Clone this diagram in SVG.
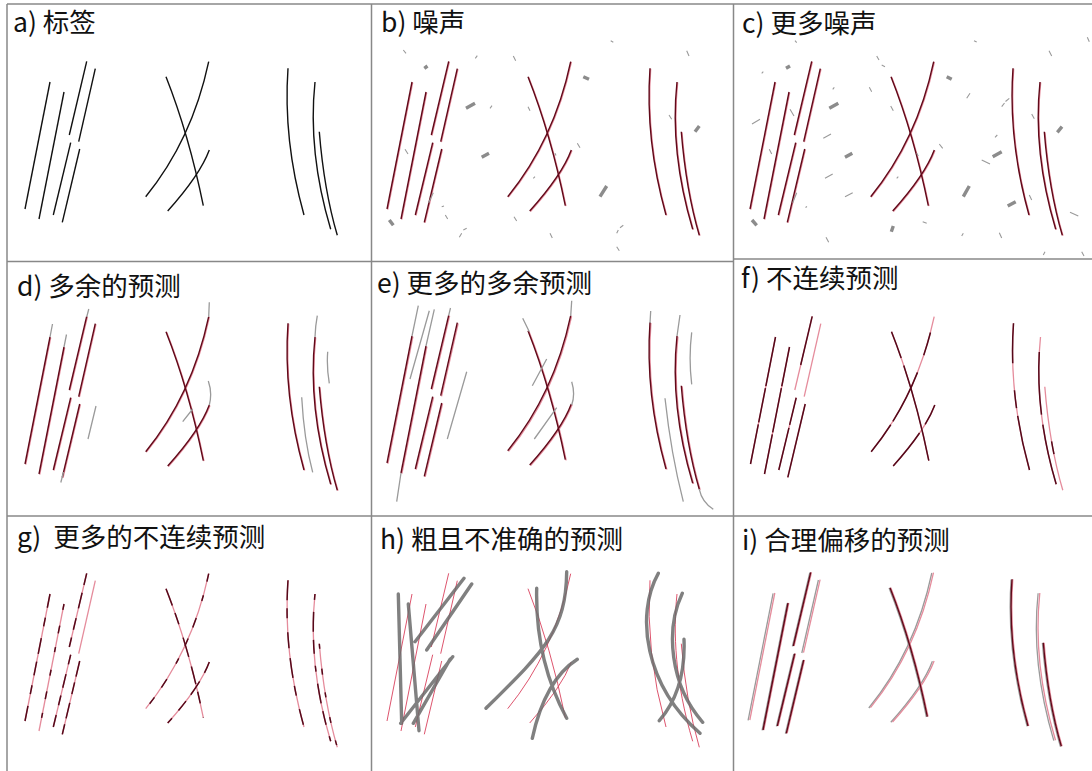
<svg xmlns="http://www.w3.org/2000/svg" width="1092" height="771" viewBox="0 0 1092 771">
<style>
.blk{fill:none;stroke:#111;stroke-width:1.4}
.gt{fill:none;stroke:#600919;stroke-width:1.4}
.gtd{fill:none;stroke:#55091a;stroke-width:1.5}
.pk{fill:none;stroke:#e58c9c;stroke-width:1.3}
.nz{fill:none;stroke:#9a9a9a;stroke-width:1.1}
.nzb{fill:none;stroke:#8c8c8c;stroke-width:3.4}
.ex{fill:none;stroke:#9a9a9a;stroke-width:1.3}
.thin{fill:none;stroke:#d9415c;stroke-width:0.9}
.thick{fill:none;stroke:#6a6a6a;stroke-width:3.4;stroke-linecap:round;opacity:.85}
.grid{stroke:#888;stroke-width:1.5}
.lbl{font-family:"Noto Sans CJK SC","Noto Sans",sans-serif;font-size:26.5px;fill:#111;white-space:pre}
</style>
<defs>
<path id="L1" fill="none" d="M50,82 L25,209"/>
<path id="L2" fill="none" d="M64,92 L39,219"/>
<path id="L3a" fill="none" d="M86.7,61.3 L69.3,135"/>
<path id="L3b" fill="none" d="M70.7,142.7 L53.3,215"/>
<path id="L4a" fill="none" d="M95.3,68.7 L78.7,141.7"/>
<path id="L4b" fill="none" d="M79.7,149 L62.3,222.3"/>
<path id="XA" fill="none" d="M166,76.7 Q189,135 203.3,205.7"/>
<path id="XB" fill="none" d="M208.7,61.7 Q192,140 145.7,196.7"/>
<path id="XC" fill="none" d="M209.3,150 Q200,175 167.7,211"/>
<path id="P" fill="none" d="M288,68.3 Q283,140 304,215"/>
<path id="Q" fill="none" d="M315,82 C311,120 313,170 330.7,229.3"/>
<path id="R" fill="none" d="M319.3,131.7 Q324,190 337.3,235.3"/>
<g id="base">
<use href="#L1"/><use href="#L2"/><use href="#L3a"/><use href="#L3b"/><use href="#L4a"/><use href="#L4b"/>
<use href="#XA"/><use href="#XB"/><use href="#XC"/><use href="#P"/><use href="#Q"/><use href="#R"/>
</g>
</defs>

<g id="grid">
<line class="grid" x1="7" y1="4" x2="1092" y2="4"/>
<line class="grid" x1="7" y1="261.5" x2="734" y2="261.5"/>
<line class="grid" x1="734" y1="259" x2="1092" y2="259"/>
<line class="grid" x1="7" y1="516" x2="1092" y2="516"/>
<line class="grid" x1="7" y1="4" x2="7" y2="771"/>
<line class="grid" x1="371.5" y1="4" x2="371.5" y2="771"/>
<line class="grid" x1="733.5" y1="4" x2="733.5" y2="771"/>
</g>

<g id="panel-a">
<use href="#base" class="blk"/>
<text class="lbl" x="13" y="32">a) 标签</text>
</g>

<g id="panel-b">
<g transform="translate(362,0)">
<use href="#base" class="pk" transform="translate(0.7,0.5)"/>
<use href="#base" class="gt"/>
</g>
<g id="noise-b">
<path class="nz" d="M403.3,50 L406,53.3 M475.3,58.3 L477.3,55.7 M513.3,56 L515.7,60.7 M610.7,40.7 L613.3,42.3 M686.7,50.7 L689,56 M490,108.3 L492,105.7 M528,106.7 L530,110.7 M669,115 L671.7,119.3 M405,149.3 L408,154 M577.3,143.3 L580,147.7 M555,153.3 L556,155.5 M533.3,178.3 L535,176.7 M441.7,206.7 L444,206 M445.3,215 L447.7,219 M514,216.7 L516.7,221 M459.3,237.3 L461.7,233.3 M463.3,230 L466.7,228.3 M550,233.3 L552.3,238 M616.7,233.3 L618.3,230 M620,227.7 L623.3,225.3 M616.7,246.7 L619.3,250.7"/>
<path class="nzb" d="M424.3,68.3 L427.5,66 M466,108.3 L475,103.3 M583.3,76.7 L589,79.3 M695,131.7 L699.3,126 M481.7,157.3 L489,153.3 M600,196.7 L606.7,186 M389.3,220 L393.3,225.3"/>
<path class="nz" stroke-width="2" d="M428.7,202.7 L433.3,192.7"/>
</g>
<text class="lbl" x="381" y="32">b) 噪声</text>
</g>

<g id="panel-c">
<g transform="translate(725,0)">
<use href="#base" class="pk" transform="translate(0.7,0.5)"/>
<use href="#base" class="gt"/>
</g>
<g id="noise-c">
<path class="nz" d="M795,40.7 L796.7,42.7 M974,40.7 L976.7,42 M1087.3,37.3 L1089.3,41.7 M876.7,56 L879,60 M881.7,65 L885,66.7 M1049,50.7 L1051.7,56 M761.7,73.3 L763.3,71.7 M832.7,89.3 L834.3,87.3 M869.3,87.3 L871.7,91.7 M966.7,98.3 L970,93.3 M1001.7,106.7 L1004.5,103 M1005.5,101.5 L1009.3,98.3 M752,124 L760,119.3 M790,109.3 L794,116 M890.7,106 L893.3,110.7 M1031.7,114 L1034.3,118.7 M823.3,138.3 L831,134 M995,137.3 L997.3,135 M939.3,144 L942.7,148.3 M769.3,149.3 L771.7,154 M981.7,160 L990,164 M916.7,153.3 L918.3,156 M825,178.3 L832.7,174 M896.7,178.3 L898.3,176.7 M845,196.7 L852.7,192.7 M1029.3,195 L1031.7,200 M805.5,207.5 L807,206.5 M922.7,221.7 L926.7,223.3 M1070,212.3 L1078.3,216 M826,237.3 L828.7,242.3 M961.7,236 L963.3,233.3 M999.3,232.7 L1001.7,238 M1043.3,255 L1045,251.7 M1081.7,251.7 L1084,256"/>
<path class="nzb" d="M786,68.3 L790,66 M946.7,76.7 L951.7,79.3 M829.3,108.3 L838.3,103.3 M1057.3,132.3 L1062,126.7 M845,157.3 L852.3,153.3 M992.7,156.7 L1001.7,151.7 M963.3,196.7 L969.3,186 M1007.7,206 L1015.7,201.7 M752,220 L756.7,225.3 M891.3,231.7 L893.3,226"/>
<path class="nz" stroke-width="2" d="M792.7,202.7 L796.7,192.7"/>
</g>
<text class="lbl" x="742" y="33">c) 更多噪声</text>
</g>

<g id="panel-d">
<g transform="translate(0,255)">
<use href="#base" class="pk" transform="translate(0.7,0.5)"/>
<use href="#base" class="gt"/>
<path class="ex" d="M52.5,69 L50,82 M66.5,79.5 L64,92 M88.8,54 L86.7,62 M63.5,217 L60.8,227.5 M96,151 L88,184 M209.3,47.3 L208.7,61.7 M209.3,150 Q212.5,138 208.3,126 M182.7,166.7 L192.7,154 M317.3,60.7 Q315.5,70 315,82 M327.7,96.7 Q326.5,112 329.3,128.3 M301.7,142.3 Q304,185 312.7,217.3"/>
</g>
<text class="lbl" x="17" y="296">d) 多余的预测</text>
</g>

<g id="panel-e">
<g transform="translate(362,254)">
<use href="#base" class="pk" transform="translate(0.9,0.6)" stroke-width="1.8"/>
<use href="#base" class="gt"/>
<path class="ex" stroke="#8a8a8a" d="M56.3,51.7 L50,82 M67.3,56.7 L48,125 M72.3,55.3 L64,92 M39,219 L34.7,247.7 M88.5,54 L86.7,61.3 M104.7,117.7 L85.3,185 M209.7,46.7 L208.7,62 M160.7,64.3 L167.3,77.7 M184.7,105 L170.3,131.7 M209.7,127.7 Q213.5,140 209.7,151 M194.7,153.7 L172.3,185 M288.7,57 L288,69 M318,61 L315,82 M329.7,78.3 Q326.5,104 329.7,130.3 M303,144.3 Q309,200 321.3,247.7 M337.3,235.3 Q340,248 351.3,255.3"/>
</g>
<text class="lbl" x="377" y="293">e) 更多的多余预测</text>
</g>

<g id="panel-f">
<g transform="translate(725.5,255)">
<use href="#base" class="pk"/>
<g class="gtd">
<use href="#L1" style="stroke-dasharray:50 2 35 2 200"/>
<use href="#L2" style="stroke-dasharray:40 2 45 2 200"/>
<use href="#L3a" style="stroke-dasharray:50 100"/>
<use href="#L3b" style="stroke-dasharray:28 3 200"/>
<use href="#L4b"/>
<use href="#XA" style="stroke-dasharray:28 8 200"/>
<use href="#XB" style="stroke-dasharray:0 16 24 18 55 4 200"/>
<use href="#XC" style="stroke-dasharray:22 10 200"/>
<use href="#P" style="stroke-dasharray:40 27 18 8 200"/>
<use href="#Q" style="stroke-dasharray:0 15 63 10 200"/>
<use href="#R" style="stroke-dasharray:0 55 13 100"/>
</g>
</g>
<text class="lbl" x="741" y="288">f) 不连续预测</text>
</g>

<g id="panel-g">
<g transform="translate(0,512)">
<use href="#base" class="pk"/>
<g class="gtd">
<use href="#L1" style="stroke-dasharray:14 10 9 12 16 8"/>
<use href="#L2" style="stroke-dasharray:6 16 8 14 5 18"/>
<use href="#L3a" style="stroke-dasharray:12 8 16 10"/>
<use href="#L3b" style="stroke-dasharray:10 10 14 8"/>
<use href="#L4b" style="stroke-dasharray:16 6 12 9"/>
<use href="#XA" style="stroke-dasharray:18 8 12 14 20 10"/>
<use href="#XB" style="stroke-dasharray:8 14 6 18 10 12"/>
<use href="#XC" style="stroke-dasharray:12 10 16 8"/>
<use href="#P" style="stroke-dasharray:20 8 10 14 16 10"/>
<use href="#Q" style="stroke-dasharray:6 12 20 8 14 12"/>
<use href="#R" style="stroke-dasharray:5 20 6 18"/>
</g>
</g>
<text class="lbl" x="17" y="547">g)  更多的不连续预测</text>
</g>

<g id="panel-h">
<use href="#base" class="thin" transform="translate(362,512)"/>
<path class="thick" d="M398.3,594 L401.7,723.3 M408.3,604 L419,730.7 M464,578.3 L415,641.7 M471.7,584 L426.7,650 M452.7,656.7 L400.7,723.3 M450,659.3 L413.3,723.3 M536.7,588.3 Q535,660 566.7,718.3 M566.7,571.7 C566,630 545,650 486,708.3 M577.3,659.3 Q545,680 532.3,738.3 M658.3,573.3 C635,615 645,685 700,733.3 M682.3,593.3 C665,630 670,685 702.7,722.3 M684,639.3 Q686,690 659.3,720.7"/>
<text class="lbl" x="380" y="549">h) 粗且不准确的预测</text>
</g>

<g id="panel-i">
<g transform="translate(724,511)">
<use href="#base" class="ex" stroke="#8a8a8a" stroke-width="1.2" transform="translate(-0.9,0.3)"/>
<use href="#base" class="pk" stroke-width="1.2" transform="translate(0.8,0)"/>
<g class="gt" stroke-width="1.2">
<use href="#L2"/><use href="#L3a"/><use href="#L3b"/><use href="#L4b"/><use href="#XA"/><use href="#P"/><use href="#R"/>
</g>
</g>
<text class="lbl" x="742" y="550">i) 合理偏移的预测</text>
</g>
</svg>
